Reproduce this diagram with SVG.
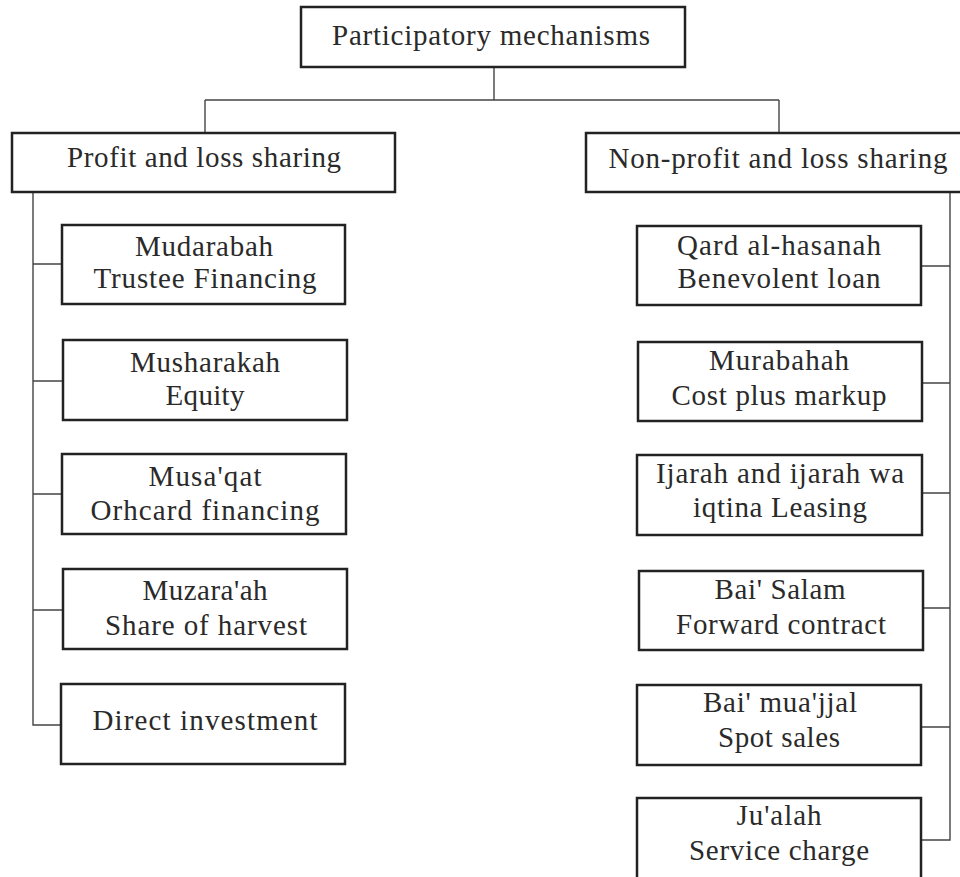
<svg xmlns="http://www.w3.org/2000/svg" width="960" height="877" viewBox="0 0 960 877">
<style>
.box{fill:#fff;stroke:#222;stroke-width:2.5}
.lbl{font-family:"Liberation Serif","Times New Roman",serif;font-size:29px;fill:#2a2a2a;text-anchor:middle}
.conn{fill:none;stroke:#444;stroke-width:1.4}
</style>
<rect width="960" height="877" fill="#fff"/>
<g id="connectors">
<path class="conn" d="M494 67V100M205 100H779M205 100V133M779 100V133"/>
<path class="conn" d="M33 192V725H62M33 264H62M33 381H63M33 494H62M33 610H63"/>
<path class="conn" d="M950 192V840H921M921 266H950M922 383H950M922 493H950M923 608H950M921 727H950"/>
</g>
<g id="root"><rect class="box" x="301" y="7" width="384" height="60"/><text class="lbl" x="491" y="45" textLength="318" lengthAdjust="spacing">Participatory mechanisms</text></g>
<g id="pls"><rect class="box" x="12" y="133" width="383" height="59"/><text class="lbl" x="204" y="167" textLength="274" lengthAdjust="spacing">Profit and loss sharing</text></g>
<g id="npls"><rect class="box" x="586" y="133" width="380" height="59"/><text class="lbl" x="778" y="168" textLength="339" lengthAdjust="spacing">Non-profit and loss sharing</text></g>
<g id="mudarabah"><rect class="box" x="62" y="225" width="283" height="79"/><text class="lbl" x="204" y="256" textLength="138" lengthAdjust="spacing">Mudarabah</text><text class="lbl" x="205" y="288" textLength="223" lengthAdjust="spacing">Trustee Financing</text></g>
<g id="musharakah"><rect class="box" x="63" y="340" width="284" height="80"/><text class="lbl" x="205" y="372" textLength="150" lengthAdjust="spacing">Musharakah</text><text class="lbl" x="205" y="405" textLength="79" lengthAdjust="spacing">Equity</text></g>
<g id="musaqat"><rect class="box" x="62" y="454" width="284" height="80"/><text class="lbl" x="205" y="486" textLength="113" lengthAdjust="spacing">Musa'qat</text><text class="lbl" x="205" y="520" textLength="229" lengthAdjust="spacing">Orhcard financing</text></g>
<g id="muzaraah"><rect class="box" x="63" y="569" width="284" height="80"/><text class="lbl" x="205" y="600" textLength="125" lengthAdjust="spacing">Muzara'ah</text><text class="lbl" x="206" y="635" textLength="202" lengthAdjust="spacing">Share of harvest</text></g>
<g id="direct"><rect class="box" x="61" y="684" width="284" height="80"/><text class="lbl" x="205" y="730" textLength="225" lengthAdjust="spacing">Direct investment</text></g>
<g id="qard"><rect class="box" x="637" y="226" width="284" height="79"/><text class="lbl" x="779" y="255" textLength="204" lengthAdjust="spacing">Qard al-hasanah</text><text class="lbl" x="779" y="288" textLength="203" lengthAdjust="spacing">Benevolent loan</text></g>
<g id="murabahah"><rect class="box" x="638" y="342" width="284" height="79"/><text class="lbl" x="779" y="370" textLength="140" lengthAdjust="spacing">Murabahah</text><text class="lbl" x="779" y="405" textLength="215" lengthAdjust="spacing">Cost plus markup</text></g>
<g id="ijarah"><rect class="box" x="637" y="455" width="285" height="80"/><text class="lbl" x="780" y="483" textLength="248" lengthAdjust="spacing">Ijarah and ijarah wa</text><text class="lbl" x="780" y="517" textLength="174" lengthAdjust="spacing">iqtina Leasing</text></g>
<g id="baisalam"><rect class="box" x="639" y="571" width="284" height="79"/><text class="lbl" x="780" y="599" textLength="131" lengthAdjust="spacing">Bai' Salam</text><text class="lbl" x="781" y="634" textLength="210" lengthAdjust="spacing">Forward contract</text></g>
<g id="baimuajjal"><rect class="box" x="637" y="685" width="284" height="80"/><text class="lbl" x="780" y="712" textLength="154" lengthAdjust="spacing">Bai' mua'jjal</text><text class="lbl" x="779" y="747" textLength="122" lengthAdjust="spacing">Spot sales</text></g>
<g id="jualah"><rect class="box" x="637" y="798" width="284" height="90"/><text class="lbl" x="779" y="825" textLength="85" lengthAdjust="spacing">Ju'alah</text><text class="lbl" x="779" y="860" textLength="180" lengthAdjust="spacing">Service charge</text></g>
</svg>
